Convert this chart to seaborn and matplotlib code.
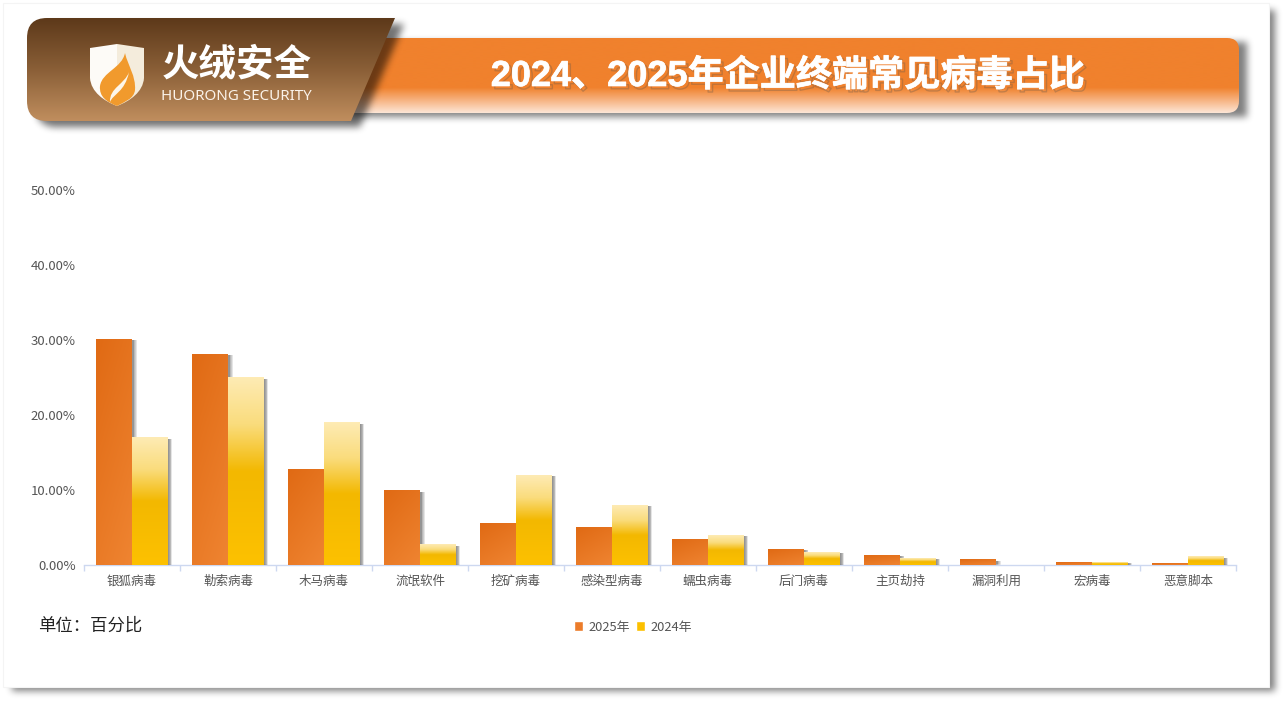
import numpy as np
import pandas as pd
import seaborn as sns
import matplotlib.pyplot as plt
from matplotlib.patches import Rectangle, PathPatch, FancyBboxPatch
from matplotlib.path import Path
from matplotlib.colors import LinearSegmentedColormap
from matplotlib import patheffects, transforms

categories = ['银狐病毒', '勒索病毒', '木马病毒', '流氓软件', '挖矿病毒', '感染型病毒',
              '蠕虫病毒', '后门病毒', '主页劫持', '漏洞利用', '宏病毒', '恶意脚本']
values_2025 = [30.1, 28.1, 12.7, 9.9, 5.5, 5.0, 3.4, 2.1, 1.3, 0.7, 0.4, 0.2]
values_2024 = [17.0, 25.0, 19.0, 2.7, 12.0, 8.0, 4.0, 1.7, 0.9, 0.0, 0.4, 1.1]
series_names = ['2025年', '2024年']
y_ticks = [0, 10, 20, 30, 40, 50]

W, H = 1286, 704
sns.set_theme(style='white')
plt.rcParams['font.family'] = ['Noto Sans CJK SC', 'DejaVu Sans']

fig = plt.figure(figsize=(W / 100, H / 100), dpi=100, facecolor='white')


def box_blur(a, n, axis):
    c = np.cumsum(np.insert(a, 0, 0, axis=axis), axis=axis)
    size = a.shape[axis]
    lo = np.clip(np.arange(size) - n, 0, size)
    hi = np.clip(np.arange(size) + n + 1, 0, size)
    return (np.take(c, hi, axis=axis) - np.take(c, lo, axis=axis)) / (2 * n + 1)


def blurred_shadow(ax, path, dx, dy, blur, alpha, z):
    # rasterise the outline, blur it, show it as a black image with alpha
    xx, yy = np.meshgrid(np.arange(W) + 0.5 - dx, np.arange(H) + 0.5 - dy)
    pts = np.column_stack([xx.ravel(), yy.ravel()])
    mask = path.contains_points(pts).reshape(H, W).astype(float)
    for _ in range(3):
        mask = box_blur(mask, blur, 0)
        mask = box_blur(mask, blur, 1)
    rgba = np.zeros((H, W, 4))
    rgba[..., 3] = mask * alpha
    ax.imshow(rgba, extent=[0, W, H, 0], aspect='auto', zorder=z, interpolation='nearest')
    ax.set_xlim(0, W)
    ax.set_ylim(H, 0)


def gradient_fill(ax, clip, extent, colors, stops, z):
    cmap = LinearSegmentedColormap.from_list('g', list(zip(stops, colors)))
    im = ax.imshow(np.linspace(0, 1, 256).reshape(-1, 1), cmap=cmap, extent=extent,
                   aspect='auto', zorder=z, vmin=0, vmax=1, interpolation='bilinear')
    clip.set_transform(ax.transData)
    im.set_clip_path(clip)
    return im


# background layer, pixel coordinates
bg = fig.add_axes([0, 0, 1, 1], zorder=0)
bg.axis('off')
page = Path([(6, 6), (1269, 6), (1269, 687), (6, 687), (6, 6)])
blurred_shadow(bg, page, 6, 4, 3, 0.5, 1)
bg.add_patch(Rectangle((3, 3), 1266, 684, fc='white', ec='#f4f4f4', lw=0.8, zorder=2))

# chart
df = pd.DataFrame({
    'category': categories * 2,
    'value': values_2025 + values_2024,
    'series': [series_names[0]] * 12 + [series_names[1]] * 12,
})
ax = fig.add_axes([84 / W, 1 - 565 / H, 1152 / W, 375 / H], zorder=1)
ax.patch.set_alpha(0)
sns.barplot(data=df, x='category', y='value', hue='series', hue_order=series_names,
            palette=['#ec7c2a', '#fcc000'], width=0.74, gap=0, saturation=1, ax=ax,
            errorbar=None, zorder=4)
ax.set_xlim(-0.5, 11.5)
ax.set_ylim(0, 50)

px_x, px_y = 1 / 96, 1 / 7.5
shift = transforms.offset_copy(ax.transData, fig, x=2, y=-1, units='dots')
cm_2025 = LinearSegmentedColormap.from_list('o', ['#e06a14', '#ef8431'])
cm_2024 = LinearSegmentedColormap.from_list(
    'y', [(0, '#feebb4'), (0.25, '#fadc7c'), (0.5, '#f3b800'), (1, '#fdc100')])
for i, bars in enumerate(ax.containers):
    for bar in bars:
        x0, w, h = bar.get_x(), bar.get_width(), bar.get_height()
        if h <= 0:
            continue
        bar.set_edgecolor('none')
        for s in np.linspace(2.5, -0.5, 5):
            ax.add_patch(Rectangle((x0 - s * px_x, 0), w + 2 * s * px_x, h,
                                   fc='black', ec='none', alpha=0.1, zorder=2 + i * 2,
                                   transform=shift))
        bar.set_zorder(3 + i * 2)
        if i == 0:
            xx, yy = np.meshgrid(np.linspace(0, 1, 40), np.linspace(0, 1, 80))
            # mild diagonal, top left darker
            ax.imshow(0.35 * xx + 0.65 * yy, cmap=cm_2025, vmin=0, vmax=1,
                      extent=[x0, x0 + w, 0, h], aspect='auto', zorder=3,
                      interpolation='bilinear')
        else:
            ax.imshow(np.linspace(0, 1, 128).reshape(-1, 1), cmap=cm_2024, vmin=0, vmax=1,
                      extent=[x0, x0 + w, 0, h], aspect='auto', zorder=5,
                      interpolation='bilinear')
ax.set_xlim(-0.5, 11.5)
ax.set_ylim(0, 50)

sns.despine(ax=ax, left=True)
ax.spines['bottom'].set_color('#cdd8f0')
ax.spines['bottom'].set_linewidth(1)
ax.set_xlabel('')
ax.set_ylabel('')
ax.set_yticks(y_ticks)
ax.set_yticklabels([f'{v:.2f}%' for v in y_ticks], fontsize=9.5, color='#555555')
ax.set_xticks(range(12))
ax.set_xticklabels(categories, fontsize=9, color='#555555')
ax.set_xticks(np.arange(-0.5, 12), minor=True)
ax.tick_params(axis='x', which='major', length=0, pad=7)
ax.tick_params(axis='x', which='minor', length=4, color='#cdd8f0', width=1, bottom=True)
ax.tick_params(axis='y', length=0, pad=6)

sns.move_legend(ax, 'center', bbox_to_anchor=(633 / W, 1 - 627 / H),
                bbox_transform=fig.transFigure, ncol=2, frameon=False, title=None,
                fontsize=9.3, handlelength=0.7, handleheight=0.7, handletextpad=0.4,
                columnspacing=0.45, labelcolor='#555555')

# header layer
top = fig.add_axes([0, 0, 1, 1], zorder=2)
top.axis('off')
top.patch.set_alpha(0)

# orange banner, its left end sits behind the logo panel
banner = FancyBboxPatch((340, 38), 899, 75, boxstyle='round,pad=0,rounding_size=12',
                        fc='none', ec='none', zorder=2)
top.add_patch(banner)
blurred_shadow(top, banner.get_path().interpolated(8), 8, 4, 3, 0.5, 1)
gradient_fill(top, banner, [340, 1239, 113, 38], ['#f0812d', '#f0812d', '#fde6d6'],
              [0, 0.66, 1], 2)

top.text(788, 76.5, '2024、2025年企业终端常见病毒占比', ha='center', va='center', fontsize=26,
         fontweight='bold', color='white', zorder=3,
         family=['Liberation Sans', 'Noto Sans CJK SC'],
         path_effects=[patheffects.SimpleLineShadow(offset=(2, -2), shadow_color='#6b5a4a',
                                                    alpha=0.35, linewidth=1),
                       patheffects.Stroke(linewidth=0.5, foreground='white'),
                       patheffects.Normal()])

# brown logo panel with slanted right edge
panel_pts = [(47, 18), (395, 18), (351, 121), (47, 121), (27, 121), (27, 101),
             (27, 38), (27, 18), (47, 18)]
panel_codes = [Path.MOVETO, Path.LINETO, Path.LINETO, Path.LINETO, Path.CURVE3, Path.CURVE3,
               Path.LINETO, Path.CURVE3, Path.CURVE3]
panel_path = Path(panel_pts, panel_codes)
blurred_shadow(top, Path(panel_path.to_polygons(closed_only=False)[0]), 9, 6, 3, 0.55, 3)
panel = PathPatch(panel_path, fc='none', ec='none', zorder=4)
top.add_patch(panel)
gradient_fill(top, panel, [27, 395, 121, 18], ['#5d391a', '#8a5f37', '#c08e5e'], [0, 0.5, 1], 4)

# logo shield and flame
left_half = Path([(90, 48), (117, 44), (117, 106), (104, 101), (91, 92), (90, 78), (90, 48)],
                 [Path.MOVETO, Path.LINETO, Path.LINETO, Path.CURVE4, Path.CURVE4, Path.CURVE4, Path.LINETO])
right_half = Path([(117, 44), (144, 48), (144, 78), (143, 92), (130, 101), (117, 106), (117, 44)],
                  [Path.MOVETO, Path.LINETO, Path.LINETO, Path.CURVE4, Path.CURVE4, Path.CURVE4, Path.LINETO])
top.add_patch(PathPatch(left_half, fc='#fdfbf7', ec='none', zorder=5))
top.add_patch(PathPatch(right_half, fc='#f4ecdc', ec='none', zorder=5))
flame = Path([(125, 53), (128, 66), (136, 76), (135, 90), (134, 99), (124, 102), (117, 106),
              (107, 102), (99, 97), (100, 86), (102, 72), (122, 68), (125, 53)],
             [Path.MOVETO] + [Path.CURVE4] * 12)
top.add_patch(PathPatch(flame, fc='#f19a2d', ec='none', zorder=6))
streak = Path([(129, 72), (125, 84), (109, 88), (110, 102), (113, 94), (125, 92), (129, 72)],
              [Path.MOVETO] + [Path.CURVE4] * 6)
top.add_patch(PathPatch(streak, fc='#fdf6ea', ec='none', zorder=7))

top.text(236.5, 64, '火绒安全', ha='center', va='center', fontsize=27, fontweight='bold', color='white', zorder=6)
top.text(236.5, 96, 'HUORONG SECURITY', ha='center', va='center', fontsize=10.9, color='#fbf3ea',
         family=['Noto Sans', 'DejaVu Sans'], zorder=6)

# unit note
top.text(38, 626, '单位：百分比', ha='left', va='center', fontsize=12.5, color='#222222', zorder=6)

fig.savefig('out.png', dpi=100)
